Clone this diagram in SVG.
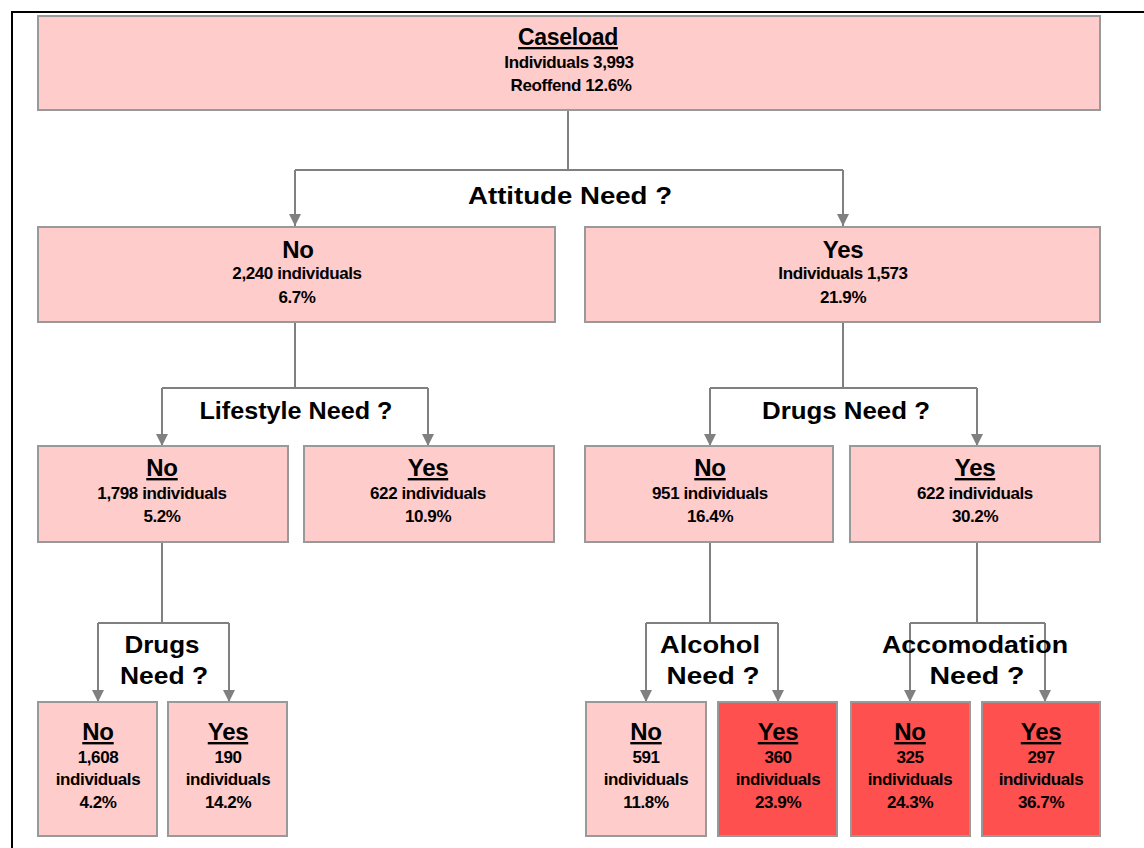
<svg xmlns="http://www.w3.org/2000/svg" width="1144" height="848" viewBox="0 0 1144 848">
<style>
.box{fill:#FFCCCC;stroke:#999999;stroke-width:2}
.red{fill:#FF5050;stroke:#999999;stroke-width:2}
.t{font-family:"Liberation Sans",Arial,sans-serif;font-weight:bold;fill:#000;text-anchor:middle}
.h{font-size:24px;letter-spacing:-0.3px}
.u{text-decoration:underline}
.s{font-size:17px;letter-spacing:-0.4px}
.q{font-size:24px}
.c{fill:none;stroke:#808080;stroke-width:2}
</style>
<defs>
<marker id="ah" viewBox="0 0 10 10" refX="10" refY="5" markerWidth="6" markerHeight="6" markerUnits="strokeWidth" orient="auto">
<path d="M0,0 L10,5 L0,10 z" fill="#808080"/>
</marker>
</defs>
<rect x="0" y="0" width="1144" height="848" fill="#fff"/>
<rect x="12" y="12" width="1140" height="850" fill="none" stroke="#000" stroke-width="2"/>
<g id="connectors">
<path class="c" d="M568,110 V170"/>
<path class="c" d="M295,170 H843"/>
<path class="c" d="M295,170 V226" marker-end="url(#ah)"/>
<path class="c" d="M843,170 V226" marker-end="url(#ah)"/>
<path class="c" d="M295,322 V388"/>
<path class="c" d="M162,388 H428"/>
<path class="c" d="M162,388 V446" marker-end="url(#ah)"/>
<path class="c" d="M428,388 V446" marker-end="url(#ah)"/>
<path class="c" d="M843,322 V388"/>
<path class="c" d="M710,388 H977"/>
<path class="c" d="M710,388 V446" marker-end="url(#ah)"/>
<path class="c" d="M977,388 V446" marker-end="url(#ah)"/>
<path class="c" d="M162,542 V623"/>
<path class="c" d="M98,623 H229"/>
<path class="c" d="M98,623 V702" marker-end="url(#ah)"/>
<path class="c" d="M229,623 V702" marker-end="url(#ah)"/>
<path class="c" d="M710,542 V623"/>
<path class="c" d="M646,623 H778"/>
<path class="c" d="M646,623 V702" marker-end="url(#ah)"/>
<path class="c" d="M778,623 V702" marker-end="url(#ah)"/>
<path class="c" d="M977,542 V623"/>
<path class="c" d="M910,623 H1045"/>
<path class="c" d="M910,623 V702" marker-end="url(#ah)"/>
<path class="c" d="M1045,623 V702" marker-end="url(#ah)"/>
</g>
<g id="q-attitude"><text class="t q" x="570" y="204" textLength="204" lengthAdjust="spacingAndGlyphs">Attitude Need ?</text></g>
<g id="q-lifestyle"><text class="t q" x="296" y="419" textLength="193" lengthAdjust="spacingAndGlyphs">Lifestyle Need ?</text></g>
<g id="q-drugs1"><text class="t q" x="846" y="419" textLength="168" lengthAdjust="spacingAndGlyphs">Drugs Need ?</text></g>
<g id="q-drugs2"><text class="t q" x="162" y="653" textLength="75" lengthAdjust="spacingAndGlyphs">Drugs</text><text class="t q" x="164" y="684" textLength="88" lengthAdjust="spacingAndGlyphs">Need ?</text></g>
<g id="q-alcohol"><text class="t q" x="710" y="653" textLength="100" lengthAdjust="spacingAndGlyphs">Alcohol</text><text class="t q" x="713" y="684" textLength="93" lengthAdjust="spacingAndGlyphs">Need ?</text></g>
<g id="q-accom"><text class="t q" x="975" y="653" textLength="186" lengthAdjust="spacingAndGlyphs">Accomodation</text><text class="t q" x="977" y="684" textLength="95" lengthAdjust="spacingAndGlyphs">Need ?</text></g>

<g id="caseload">
<rect class="box" x="38" y="16" width="1062" height="94"/>
<text class="t u" x="568" y="45" style="font-size:23px;letter-spacing:-0.3px">Caseload</text>
<text class="t s" x="569" y="68">Individuals 3,993</text>
<text class="t s" x="571" y="91">Reoffend 12.6%</text>
</g>
<g id="att-no">
<rect class="box" x="38" y="227" width="517" height="95"/>
<text class="t h" x="298" y="258">No</text>
<text class="t s" x="297" y="279">2,240 individuals</text>
<text class="t s" x="297" y="303">6.7%</text>
</g>
<g id="att-yes">
<rect class="box" x="585" y="227" width="515" height="95"/>
<text class="t h" x="843" y="258">Yes</text>
<text class="t s" x="843" y="279">Individuals 1,573</text>
<text class="t s" x="843" y="303">21.9%</text>
</g>
<g id="life-no">
<rect class="box" x="38" y="446" width="250" height="96"/>
<text class="t h u" x="162" y="476">No</text>
<text class="t s" x="162" y="499">1,798 individuals</text>
<text class="t s" x="162" y="522">5.2%</text>
</g>
<g id="life-yes">
<rect class="box" x="304" y="446" width="250" height="96"/>
<text class="t h u" x="428" y="476">Yes</text>
<text class="t s" x="428" y="499">622 individuals</text>
<text class="t s" x="428" y="522">10.9%</text>
</g>
<g id="drugs-no">
<rect class="box" x="585" y="446" width="248" height="96"/>
<text class="t h u" x="710" y="476">No</text>
<text class="t s" x="710" y="499">951 individuals</text>
<text class="t s" x="710" y="522">16.4%</text>
</g>
<g id="drugs-yes">
<rect class="box" x="850" y="446" width="250" height="96"/>
<text class="t h u" x="975" y="476">Yes</text>
<text class="t s" x="975" y="499">622 individuals</text>
<text class="t s" x="975" y="522">30.2%</text>
</g>
<g id="d2-no">
<rect class="box" x="38" y="702" width="119" height="134"/>
<text class="t h u" x="98" y="740">No</text>
<text class="t s" x="98" y="763">1,608</text>
<text class="t s" x="98" y="785">individuals</text>
<text class="t s" x="98" y="808">4.2%</text>
</g>
<g id="d2-yes">
<rect class="box" x="168" y="702" width="119" height="134"/>
<text class="t h u" x="228" y="740">Yes</text>
<text class="t s" x="228" y="763">190</text>
<text class="t s" x="228" y="785">individuals</text>
<text class="t s" x="228" y="808">14.2%</text>
</g>
<g id="alc-no">
<rect class="box" x="586" y="702" width="120" height="134"/>
<text class="t h u" x="646" y="740">No</text>
<text class="t s" x="646" y="763">591</text>
<text class="t s" x="646" y="785">individuals</text>
<text class="t s" x="646" y="808">11.8%</text>
</g>
<g id="alc-yes">
<rect class="red" x="718" y="702" width="119" height="134"/>
<text class="t h u" x="778" y="740">Yes</text>
<text class="t s" x="778" y="763">360</text>
<text class="t s" x="778" y="785">individuals</text>
<text class="t s" x="778" y="808">23.9%</text>
</g>
<g id="acc-no">
<rect class="red" x="851" y="702" width="119" height="134"/>
<text class="t h u" x="910" y="740">No</text>
<text class="t s" x="910" y="763">325</text>
<text class="t s" x="910" y="785">individuals</text>
<text class="t s" x="910" y="808">24.3%</text>
</g>
<g id="acc-yes">
<rect class="red" x="982" y="702" width="118" height="134"/>
<text class="t h u" x="1041" y="740">Yes</text>
<text class="t s" x="1041" y="763">297</text>
<text class="t s" x="1041" y="785">individuals</text>
<text class="t s" x="1041" y="808">36.7%</text>
</g>
</svg>
